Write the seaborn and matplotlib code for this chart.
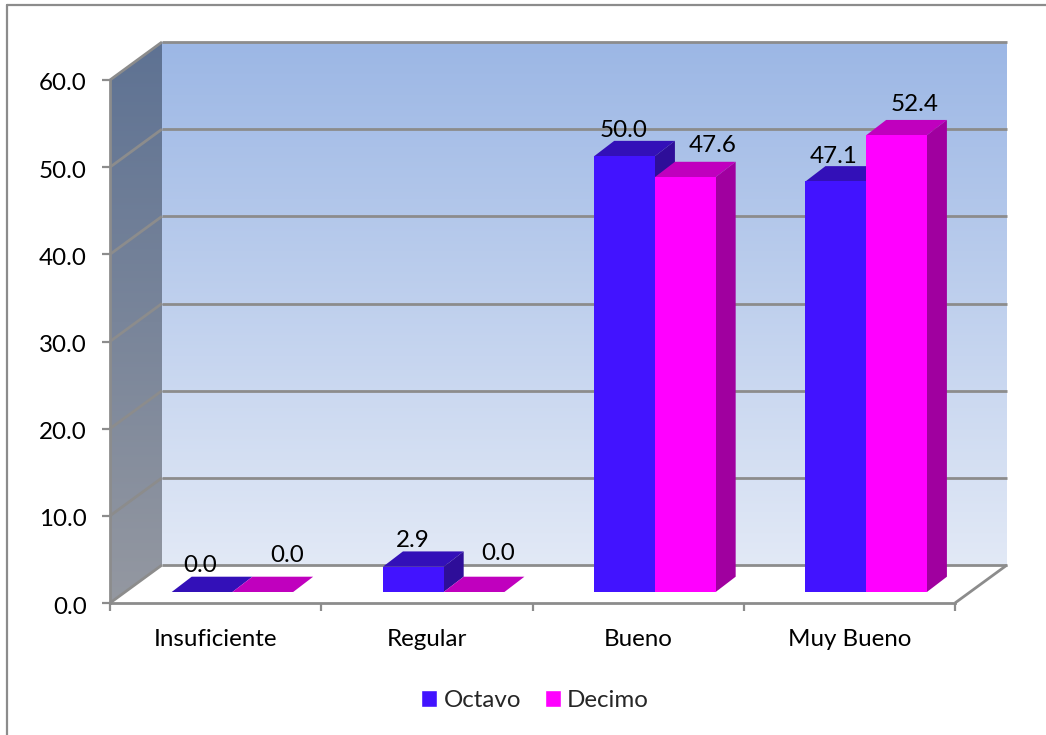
import numpy as np
import pandas as pd
import seaborn as sns
import matplotlib
matplotlib.use("Agg")
import matplotlib.pyplot as plt
from matplotlib.colors import LinearSegmentedColormap
from matplotlib.lines import Line2D
from matplotlib.patches import Polygon
from matplotlib.transforms import Affine2D, IdentityTransform

categories = ["Insuficiente", "Regular", "Bueno", "Muy Bueno"]
octavo = [0.0, 2.9, 50.0, 47.1]
decimo = [0.0, 0.0, 47.6, 52.4]
series_names = ["Octavo", "Decimo"]
y_ticks = [0, 10, 20, 30, 40, 50, 60]

sns.set_theme(style="white")
plt.rcParams["font.family"] = ["Lato", "DejaVu Sans"]
FONT = 17.4
GREY = "#8c8c8c"

W, H = 1046, 735
fig = plt.figure(figsize=(W / 100, H / 100), dpi=100, facecolor="white")
ax = fig.add_axes([110 / W, 1 - 603 / H, 845 / W, 523 / H])
ax.set_facecolor("none")

df = pd.DataFrame({
    "categoria": categories * 2,
    "serie": [series_names[0]] * 4 + [series_names[1]] * 4,
    "valor": octavo + decimo,
})
palette = {"Octavo": "#4213ff", "Decimo": "#ff00ff"}
sns.barplot(data=df, x="categoria", y="valor", hue="serie", order=categories,
            hue_order=series_names, palette=palette, saturation=1, width=0.575,
            ax=ax, zorder=3)
ax.set_xlim(-0.5, 3.5)
ax.set_ylim(0, 60)
ax.set_xlabel("")
ax.set_ylabel("")

# Projection of the box: full wall depth, the plane of the bar fronts, bar depth.
WALL = np.array([52.0, 38.0])
BAR_PLANE = np.array([16.8, 11.0])
BAR_DEPTH = np.array([20.0, 15.3])


def project(x, y, offset=(0.0, 0.0)):
    return ax.transData.transform((x, y)) + np.asarray(offset)


def polygon(points, **kw):
    patch = Polygon(np.array(points), closed=True, transform=IdentityTransform(),
                    clip_on=False, **kw)
    ax.add_patch(patch)
    return patch


def line(a, b, **kw):
    ax.add_line(Line2D([a[0], b[0]], [a[1], b[1]], transform=IdentityTransform(),
                       color=GREY, lw=2.0, clip_on=False, zorder=kw.pop("zorder", 1.5),
                       solid_capstyle="butt", **kw))


# Back wall with a vertical gradient.
back_cmap = LinearSegmentedColormap.from_list("back", ["#9cb7e5", "#e2e9f6"])
back = ax.imshow(np.linspace(0, 1, 256)[:, None], cmap=back_cmap, aspect="auto",
                 origin="upper", extent=(-0.5, 3.5, 0, 60), zorder=0,
                 interpolation="bilinear", clip_on=False)
back.set_transform(ax.transData + Affine2D().translate(*WALL))

# Side wall, slanted: the gradient is clipped to the projected quad.
side_cmap = LinearSegmentedColormap.from_list("side", ["#5e7293", "#9498a1"])
px_per_cat = 845 / 4
px_per_val = 523 / 60
side = ax.imshow(np.linspace(0, 1, 256)[:, None], cmap=side_cmap, aspect="auto",
                 origin="upper", zorder=0.5, interpolation="bilinear",
                 extent=(-0.5, -0.5 + WALL[0] / px_per_cat, 0, 60 + WALL[1] / px_per_val))
quad = Polygon(np.array([project(-0.5, 0), project(-0.5, 60),
                         project(-0.5, 60, WALL), project(-0.5, 0, WALL)]),
               closed=True, transform=IdentityTransform(), facecolor="none", edgecolor="none")
ax.add_patch(quad)
side.set_clip_box(fig.bbox)
side.set_clip_path(quad)
ax.set_xlim(-0.5, 3.5)
ax.set_ylim(0, 60)

# Gridlines run along the back wall and slant across the side wall.
for v in y_ticks:
    line(project(-0.5, v, WALL), project(3.5, v, WALL))
    line(project(-0.5, v), project(-0.5, v, WALL))
line(project(3.5, 0), project(3.5, 0, WALL))

# Bars: the seaborn rectangles are the fronts; sides and tops are added behind them.
shades = [("#3310b8", "#2e0e99"), ("#c000be", "#a0009f")]
front_shift = ax.transData + Affine2D().translate(*BAR_PLANE)
for order, (container, (top_col, side_col)) in enumerate(zip(ax.containers, shades)):
    z = 3 + order
    for bar in container:
        bar.set_transform(front_shift)
        bar.set_zorder(z + 0.2)
        bar.set_linewidth(0)
        x0, x1 = bar.get_x(), bar.get_x() + bar.get_width()
        h = bar.get_height()
        a = project(x0, h, BAR_PLANE)
        b = project(x1, h, BAR_PLANE)
        c = project(x1, 0, BAR_PLANE)
        polygon([a, b, b + BAR_DEPTH, a + BAR_DEPTH], facecolor=top_col,
                edgecolor="none", zorder=z)
        polygon([c, b, b + BAR_DEPTH, c + BAR_DEPTH], facecolor=side_col,
                edgecolor="none", zorder=z)

# Value labels sit beside the bar tops, each series with its own placement.
octavo_nudge = [(-1.5, 26), (-1, 26), (-1, 26), (-2, 25)]
decimo_nudge = [(24.5, 36), (24, 39), (27.7, 32), (18.5, 31)]
for container, values, nudges in zip(ax.containers, (octavo, decimo), (octavo_nudge, decimo_nudge)):
    for bar, value, nudge in zip(container, values, nudges):
        ax.annotate(f"{value:.1f}", xy=(bar.get_x() + bar.get_width() / 2, value),
                    xycoords="data",
                    xytext=(BAR_PLANE[0] + nudge[0], BAR_PLANE[1] + nudge[1]),
                    textcoords="offset pixels", ha="center", va="center",
                    fontsize=FONT, color="black", zorder=8, annotation_clip=False)

# Axes, ticks and tick labels.
sns.despine(ax=ax, top=True, right=True)
for name in ("left", "bottom"):
    ax.spines[name].set_color(GREY)
    ax.spines[name].set_linewidth(2.0)
    ax.spines[name].set_zorder(2)
ax.set_yticks(y_ticks, [f"{v:.1f}" for v in y_ticks])
ax.set_xticks(range(len(categories)), categories)
ax.set_xticks(np.arange(-0.5, 4.0, 1.0), minor=True)
ax.tick_params(axis="y", which="major", length=5.8, width=1.6, color=GREY, left=True,
               pad=11, labelsize=FONT, labelcolor="black")
ax.tick_params(axis="x", which="major", length=0, pad=18.5, labelsize=FONT, labelcolor="black")
ax.tick_params(axis="x", which="minor", length=6, width=1.6, color=GREY, bottom=True)
ax.grid(False)
for label in ax.get_yticklabels():
    label.set_transform(label.get_transform() + Affine2D().translate(0, -2))

# Legend below the plot.
sns.move_legend(ax, loc="center", bbox_to_anchor=(535 / W, 1 - 700.5 / H),
                bbox_transform=fig.transFigure, ncol=2, frameon=False, title=None,
                fontsize=FONT, handlelength=0.66, handleheight=0.72,
                handletextpad=0.27, columnspacing=0.98, borderpad=0, borderaxespad=0)

# Chart outline along the top and left edges.
fig.add_artist(Line2D([6.5 / W, 6.5 / W], [0, 1 - 5 / H], color=GREY, lw=1.6))
fig.add_artist(Line2D([6.5 / W, 1], [1 - 5 / H, 1 - 5 / H], color=GREY, lw=1.6))

fig.savefig("out.png", dpi=100, facecolor="white")
